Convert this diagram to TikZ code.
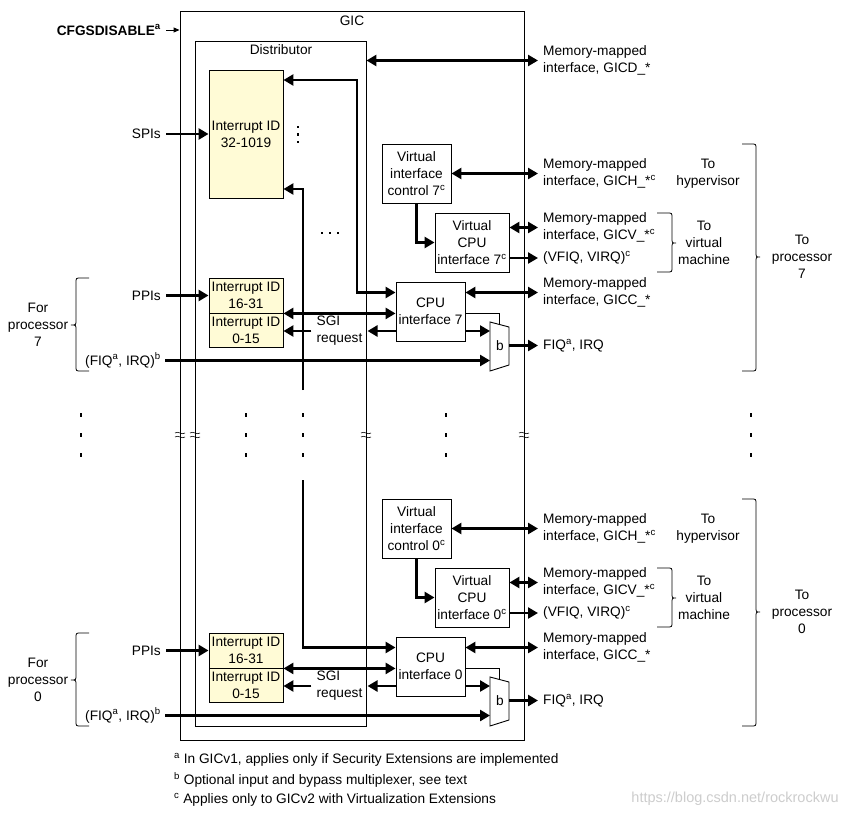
\documentclass[tikz,border=0pt]{standalone}
\usepackage{fontspec}
\setmainfont{Liberation Sans}
\usetikzlibrary{arrows.meta,calc}
\definecolor{idfill}{RGB}{255,251,214}
\definecolor{wmark}{RGB}{205,205,205}
\tikzset{
  txt/.style={font=\fontsize{13.7}{17}\selectfont},
  box/.style={draw, line width=0.9pt, align=center, inner sep=0pt, txt},
  idbox/.style={box, fill=idfill},
  arr/.style={line width=2.6pt, -{Triangle[length=10pt,width=11pt]}},
  darr/.style={line width=2.6pt, {Triangle[length=10pt,width=11pt]}-{Triangle[length=10pt,width=11pt]}},
  thinline/.style={line width=0.9pt},
  lbl/.style={align=left, anchor=west, inner sep=0pt, txt},
  ctr/.style={align=center, inner sep=0pt, txt},
  rlbl/.style={anchor=east, inner sep=0pt, txt},
  brc/.style={line width=0.8pt},
  brk/.style={line width=0.6pt},
}
\begin{document}
\begin{tikzpicture}[x=1pt,y=-1pt]
\useasboundingbox (0,0) rectangle (859,816);
\fill[white] (0,0) rectangle (859,816);

% main boxes
\node[box, minimum width=344pt, minimum height=729pt] (gic) at (352,375.5) {};
\node[ctr] (giclbl) at (352,21) {GIC};
\node[box, minimum width=171pt, minimum height=685.5pt] (dist) at (280.5,383.75) {};
\node[ctr] (distlbl) at (281,50) {Distributor};

% CFGSDISABLE
\node[rlbl, font=\bfseries\fontsize{13.7}{17}\selectfont] (cfg) at (161,30) {CFGSDISABLE\textsuperscript{a}};
\draw[thinline, -{Triangle[length=6pt,width=5pt]}, shorten <=5pt] (cfg.east) -- (gic.west |- cfg.east);

% GICD
\node[lbl] (gicd) at (543,60.5) {Memory-mapped\\interface, GICD\_*};
\draw[darr, shorten >=5pt] (dist.east |- gicd.west) -- (gicd.west);

% SPIs
\node[idbox, minimum width=74pt, minimum height=128pt] (id32) at (246,134) {Interrupt ID\\32-1019};
\node[rlbl] (spi) at (161,134) {SPIs};
\draw[arr, shorten <=5pt] (id32.west -| spi.east) -- (id32.west);

% dots near id32 and ellipsis
\foreach \yy in {127,134.5,142} \fill (296.8,\yy-1.4) rectangle (299.2,\yy+1.4);
\foreach \xx in {322,330,338} \fill (\xx-1.3,231.6) rectangle (\xx+1.3,234.4);

% paths from distributor core
\coordinate (aTop) at (357,80);
\coordinate (bTop) at (303,189);
\coordinate (bEnd7) at (303,390);
\coordinate (bStart0) at (303,480);

% processor slices
\foreach \p/\d in {7/0,0/355} {
\begin{scope}[shift={(0,\d)}]
  \node[idbox, minimum width=74pt, minimum height=35pt] (idA\p) at (246,295.5) {Interrupt ID\\16-31};
  \node[idbox, minimum width=74pt, minimum height=34pt] (idB\p) at (246,330) {Interrupt ID\\0-15};
  \node[box, minimum width=69pt, minimum height=59pt] (cpu\p) at (430.5,311.5) {CPU\\interface \p};
  \node[box, minimum width=69pt, minimum height=59pt] (vic\p) at (416.5,173.5) {Virtual\\interface\\control \p\textsuperscript{c}};
  \node[box, minimum width=74pt, minimum height=59pt] (vcpu\p) at (472,242.5) {Virtual\\CPU\\interface \p\textsuperscript{c}};

  \node[lbl] (gich\p) at (543,173.5) {Memory-mapped\\interface, GICH\_*\textsuperscript{c}};
  \node[lbl] (gicv\p) at (543,227.5) {Memory-mapped\\interface, GICV\_*\textsuperscript{c}};
  \node[lbl] (vfiq\p) at (543,258) {(VFIQ, VIRQ)\textsuperscript{c}};
  \node[lbl] (gicc\p) at (543,292.5) {Memory-mapped\\interface, GICC\_*};
  \node[lbl] (fiq\p) at (543,346) {FIQ\textsuperscript{a}, IRQ};
  \node[ctr] (hyp\p) at (708,174) {To\\hypervisor};
  \node[ctr] (vm\p) at (704,243) {To\\virtual\\machine};
  \node[ctr] (toproc\p) at (802,257) {To\\processor\\\p};
  \node[ctr] (forproc\p) at (38,325) {For\\processor\\\p};
  \node[rlbl] (ppi\p) at (161,295.5) {PPIs};
  \node[rlbl] (fiqin\p) at (161,360.5) {(FIQ\textsuperscript{a}, IRQ)\textsuperscript{b}};
  \node[align=left, inner xsep=5pt, inner ysep=0pt, txt] (sgi\p) at (339.5,331) {SGI\\request};

  % mux
  \coordinate (msel\p) at (499.5,324.5);
  \coordinate (muxin1\p) at (490,331);
  \coordinate (muxin2\p) at (490,360.5);
  \coordinate (muxout\p) at (509,345.5);
  \draw[thinline] (490,322) -- (509,327) -- (509,365) -- (490,371) -- cycle;
  \node[ctr] (mux\p) at (500,346) {b};

  % connectors
  \draw[darr, shorten >=5pt] (vic\p.east -| vic\p.east) -- (vic\p.east -| gich\p.west);
  \draw[arr] (vic\p.south) |- (vcpu\p.west);
  \draw[darr, shorten >=5pt] (vcpu\p.east |- gicv\p.west) -- (gicv\p.west);
  \draw[arr, shorten >=5pt] (vcpu\p.east |- vfiq\p.west) -- (vfiq\p.west);
  \draw[darr, shorten >=5pt] (cpu\p.east |- gicc\p.west) -- (gicc\p.west);
  \draw[arr, shorten <=5pt] (idA\p.west -| ppi\p.east) -- (idA\p.west);
  \draw[darr] (idA\p.south east) -- (cpu\p.west |- idA\p.south east);
  \draw[arr] (cpu\p.west |- sgi\p.east) -- (sgi\p.east);
  \draw[arr] (sgi\p.west) -- (idB\p.east |- sgi\p.west);
  \draw[thinline] (cpu\p.east |- idA\p.south east) -| (msel\p);
  \draw[arr] (cpu\p.east |- muxin1\p) -- (muxin1\p);
  \draw[arr, shorten <=4pt] (muxin2\p -| fiqin\p.east) -- (muxin2\p);
  \draw[arr, shorten >=5pt] (muxout\p) -- (muxout\p -| fiq\p.west);

  % braces
  \draw[brc] (89,278) -- (81,278) .. controls (76,278) .. (76,283) -- (76,320) .. controls (76,325) .. (71,325) .. controls (76,325) .. (76,330) -- (76,366) .. controls (76,371) .. (81,371) -- (89,371);
  \draw[brc] (657,213) -- (667,213) .. controls (672,213) .. (672,218) -- (672,238) .. controls (672,243) .. (676,243) .. controls (672,243) .. (672,248) -- (672,267) .. controls (672,272) .. (667,272) -- (657,272);
  \draw[brc] (742,144) -- (751,144) .. controls (756,144) .. (756,149) -- (756,252) .. controls (756,257) .. (760,257) .. controls (756,257) .. (756,262) -- (756,366) .. controls (756,371) .. (751,371) -- (742,371);
\end{scope}
}

% distributor to CPU interfaces
\draw[darr] (id32.east |- aTop) -- (aTop) |- (cpu7.west |- gicc7.west);
\draw[arr] (bEnd7) |- (id32.east |- bTop);
\draw[arr] (bStart0) |- (cpu0.west |- gicc0.west);

% continuation dots
\foreach \xx in {81,246,303,446,751}
  \foreach \yy in {415,435,455}
    \fill (\xx-1.3,\yy-1.7) rectangle (\xx+1.3,\yy+1.7);

% break marks
\foreach \xx in {180,195,366,524} {
  \draw[brk] (\xx-5,433) .. controls (\xx-2,430.5) and (\xx+2,435.5) .. (\xx+5,433);
  \draw[brk] (\xx-5,437) .. controls (\xx-2,434.5) and (\xx+2,439.5) .. (\xx+5,437);
}

% footnotes
\node[lbl] (fn1) at (174,760) {\textsuperscript{a} In GICv1, applies only if Security Extensions are implemented};
\node[lbl] (fn2) at (174,780) {\textsuperscript{b} Optional input and bypass multiplexer, see text};
\node[lbl] (fn3) at (174,800) {\textsuperscript{c} Applies only to GICv2 with Virtualization Extensions};
\node[ctr, text=wmark, font=\fontsize{14.5}{17}\selectfont] (wm) at (735,799) {https://blog.csdn.net/rockrockwu};
\end{tikzpicture}
\end{document}
